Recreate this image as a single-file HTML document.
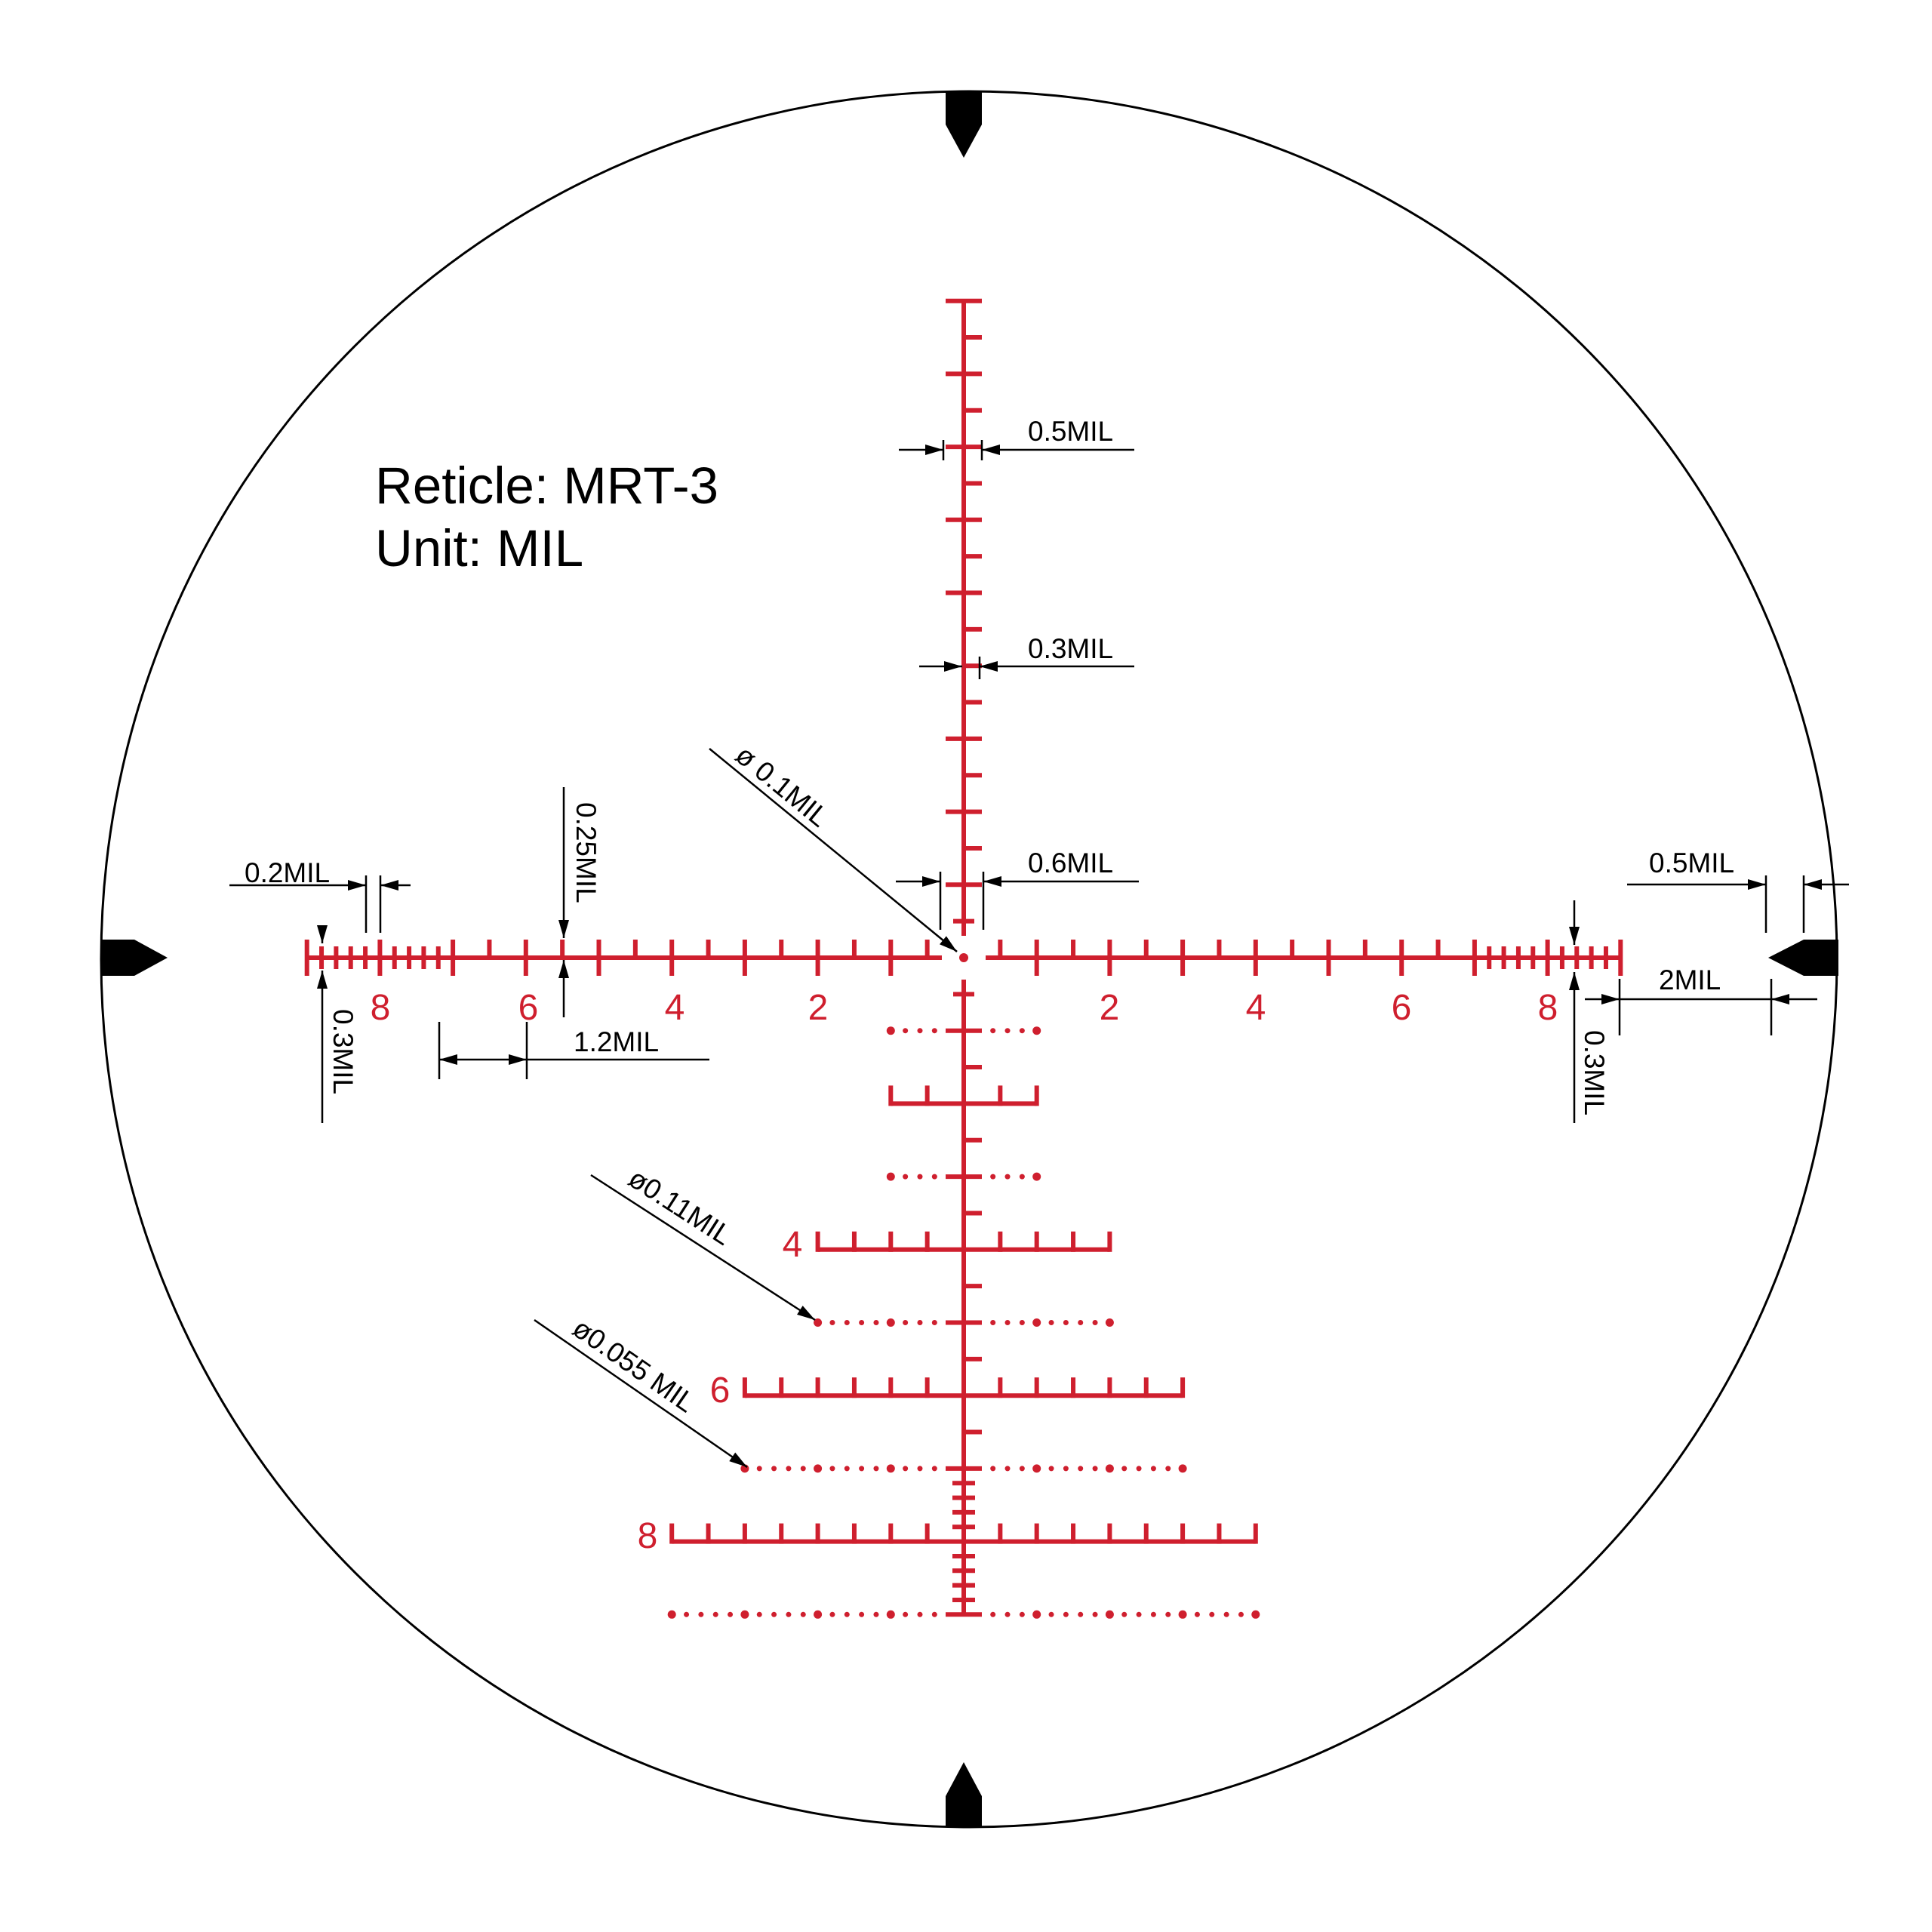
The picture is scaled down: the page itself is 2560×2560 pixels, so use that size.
<!DOCTYPE html>
<html><head><meta charset="utf-8"><style>
html,body{margin:0;padding:0;background:#fff;}
svg{display:block;}
text{font-family:"Liberation Sans",Arial,sans-serif;}
</style></head><body>
<svg id="s" width="2560" height="2560" viewBox="0 0 2560 2560" xmlns="http://www.w3.org/2000/svg">
<rect width="2560" height="2560" fill="#fff"/>
<circle cx="1284" cy="1271" r="1150" fill="none" stroke="#000" stroke-width="3"/>
<g id="red" stroke="#cf1f2e" fill="#cf1f2e"></g>
<g id="blk" stroke="#000" fill="#000"></g>
<g fill="#000" stroke="none">
<polygon points="1253,121 1301,121 1301,165 1277,209 1253,165"/>
<polygon points="1253,2421 1301,2421 1301,2380 1277,2335 1253,2380"/>
<polygon points="134,1245 178,1245 222,1269 178,1293 134,1293"/>
<polygon points="2436,1245 2390,1245 2343,1269 2390,1293 2436,1293"/>
</g>
<g fill="#000" font-size="69">
<text x="497" y="667">Reticle: MRT-3</text>
<text x="497" y="750">Unit: MIL</text>
</g>
<g fill="#000" font-size="37">
<text x="1362" y="584">0.5MIL</text>
<text x="1362" y="872">0.3MIL</text>
<text x="1362" y="1156">0.6MIL</text>
<text x="324" y="1169">0.2MIL</text>
<text x="760" y="1393">1.2MIL</text>
<text x="2185" y="1156">0.5MIL</text>
<text x="2198" y="1311">2MIL</text>
<text transform="translate(442,1337) rotate(90)">0.3MIL</text>
<text transform="translate(764,1063) rotate(90)">0.25MIL</text>
<text transform="translate(2100,1365) rotate(90)">0.3MIL</text>
<text transform="translate(972,1005) rotate(39.3)">ø 0.1MIL</text>
<text transform="translate(830,1568) rotate(32.8)">ø0.11MIL</text>
<text transform="translate(756,1766) rotate(34.8)">ø0.055 MIL</text>
</g>
<g fill="#cf1f2e" font-size="48" text-anchor="middle">
<text x="504" y="1351">8</text>
<text x="700" y="1351">6</text>
<text x="894" y="1351">4</text>
<text x="1084" y="1351">2</text>
<text x="1470" y="1351">2</text>
<text x="1664" y="1351">4</text>
<text x="1857" y="1351">6</text>
<text x="2051" y="1351">8</text>
<text x="1050" y="1665">4</text>
<text x="954" y="1858">6</text>
<text x="858" y="2051">8</text>
</g>
</svg>
<script>
(function(){
var NS="http://www.w3.org/2000/svg";
var R=document.getElementById("red"),B=document.getElementById("blk");
var M=96.7,cx=1277,cy=1269,W=6;
function ln(g,x1,y1,x2,y2,w){var e=document.createElementNS(NS,"line");e.setAttribute("x1",x1);e.setAttribute("y1",y1);e.setAttribute("x2",x2);e.setAttribute("y2",y2);e.setAttribute("stroke-width",w);g.appendChild(e);}
function dot(x,y,r){var e=document.createElementNS(NS,"circle");e.setAttribute("cx",x);e.setAttribute("cy",y);e.setAttribute("r",r);e.setAttribute("stroke","none");R.appendChild(e);}
function isInt(v){return Math.abs(v-Math.round(v))<1e-6;}
ln(R,cx-9*M,cy,cx-0.3*M,cy,W);ln(R,cx+0.3*M,cy,cx+9*M,cy,W);
[-1,1].forEach(function(s){
 for(var v=0.5;v<=7.001;v+=0.5){var x=cx+s*v*M;if(isInt(v))ln(R,x,cy-24,x,cy+24,W);else ln(R,x,cy-24,x,cy,W);}
 for(var k=36;k<=45;k++){var v=k/5;var x=cx+s*v*M;if(isInt(v))ln(R,x,cy-24,x,cy+24,W);else ln(R,x,cy-15,x,cy+15,W);}
});
ln(R,cx,cy-9*M,cx,cy-0.3*M,W);
ln(R,cx-24,cy-9*M,cx+24,cy-9*M,W);
for(var v=0.5;v<=8.501;v+=0.5){var y=cy-v*M;
 if(v==0.5)ln(R,cx-14,y,cx+14,y,W);
 else if(v==4)ln(R,cx,y,cx+24,y,W);
 else if(isInt(v))ln(R,cx-24,y,cx+24,y,W);
 else ln(R,cx,y,cx+24,y,W);}
ln(R,cx,cy+0.3*M,cx,cy+9*M,W);
dot(cx,cy,6);
function bracket(y,w){ln(R,cx-w*M,y,cx+w*M,y,W);for(var k=1;k<=w*2;k++){var d=k*0.5*M;ln(R,cx-d,y-24,cx-d,y+3,W);ln(R,cx+d,y-24,cx+d,y+3,W);}}
function dots(y,w){ln(R,cx-24,y,cx+24,y,W);for(var k=2;k<=w*5;k++){var v=k/5;var r=isInt(v)?5.5:3.5;dot(cx-v*M,y,r);dot(cx+v*M,y,r);}}
for(var v=0.5;v<=8.9;v+=0.5){var y=cy+v*M;
 if(v==0.5)ln(R,cx-14,y,cx+14,y,W);
 else if(v==1||v==3||v==5||v==7)dots(y,v==1?1:(v==3?1:(v==5?2:3)));
 else if(v==2)bracket(y,1);else if(v==4)bracket(y,2);else if(v==6)bracket(y,3);else if(v==8)bracket(y,4);
 else if(v<7)ln(R,cx,y,cx+24,y,W);}
[7.2,7.4,7.6,7.8,8.2,8.4,8.6,8.8].forEach(function(v){var y=cy+v*M;ln(R,cx-15,y,cx+15,y,W);});
dots(cy+9*M,4);
function arrow(x1,y1,x2,y2){ln(B,x1,y1,x2,y2,2.5);var dx=x2-x1,dy=y2-y1,L=Math.sqrt(dx*dx+dy*dy);var ux=dx/L,uy=dy/L,h=24,w=7;
 var bx=x2-ux*h,by=y2-uy*h;var p=document.createElementNS(NS,"polygon");
 p.setAttribute("points",x2+","+y2+" "+(bx-uy*w)+","+(by+ux*w)+" "+(bx+uy*w)+","+(by-ux*w));p.setAttribute("stroke","none");B.appendChild(p);}
function l(x1,y1,x2,y2){ln(B,x1,y1,x2,y2,2.5);}
arrow(1191,596,1250,596);arrow(1503,596,1301,596);l(1250,583,1250,610);l(1301,583,1301,610);
arrow(1218,883,1275,883);arrow(1503,883,1298,883);l(1298,870,1298,900);
arrow(1187,1168,1246,1168);arrow(1509,1168,1303,1168);l(1246,1155,1246,1232);l(1303,1155,1303,1232);
arrow(940,992,1268,1261);arrow(783,1557,1080,1749);arrow(708,1749,990,1944);
arrow(304,1173,485,1173);arrow(544,1173,504,1173);l(485,1160,485,1236);l(504,1160,504,1236);
arrow(427,1227,427,1250);arrow(427,1488,427,1286);
arrow(747,1043,747,1243);arrow(747,1348,747,1272);
l(582,1354,582,1430);l(698,1354,698,1430);arrow(640,1404,582,1404);arrow(640,1404,698,1404);l(698,1404,940,1404);
arrow(2156,1172,2340,1172);arrow(2450,1172,2390,1172);l(2340,1160,2340,1236);l(2390,1160,2390,1236);
arrow(2100,1324,2146,1324);arrow(2408,1324,2347,1324);l(2146,1297,2146,1372);l(2347,1297,2347,1372);l(2146,1324,2347,1324);
arrow(2086,1193,2086,1252);arrow(2086,1488,2086,1288);
})();
</script>
</body></html>
